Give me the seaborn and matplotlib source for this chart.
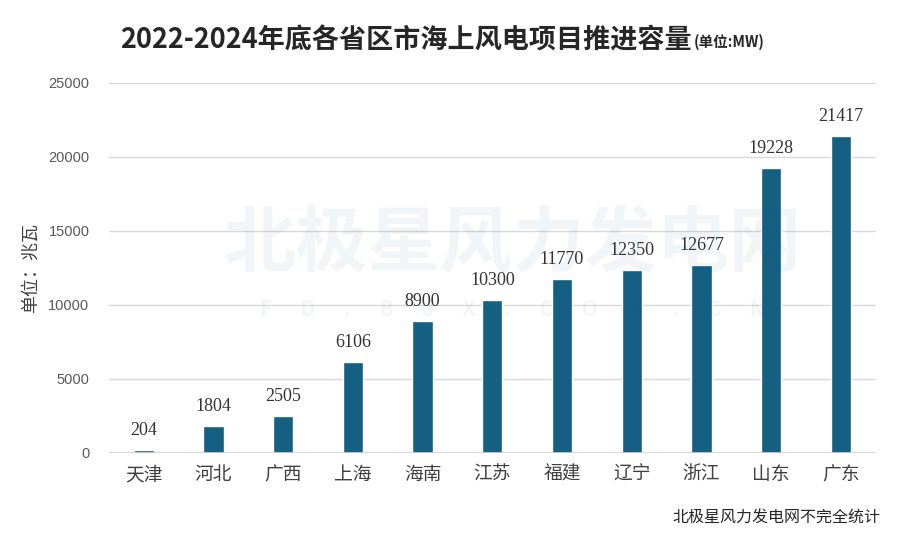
import pandas as pd
import seaborn as sns
import matplotlib.pyplot as plt

provinces = ["天津", "河北", "广西", "上海", "海南", "江苏", "福建", "辽宁", "浙江", "山东", "广东"]
capacity = [204, 1804, 2505, 6106, 8900, 10300, 11770, 12350, 12677, 19228, 21417]
y_ticks = [0, 5000, 10000, 15000, 20000, 25000]

df = pd.DataFrame({"province": provinces, "capacity": capacity})

sns.set_theme(style="white")
plt.rcParams["font.family"] = ["Noto Sans CJK SC", "DejaVu Sans"]

fig = plt.figure(figsize=(9, 5.34), dpi=100)
ax = fig.add_axes([0.121, 0.152, 0.852, 0.693])

# faint watermark behind the chart
fig.text(0.57, 0.541, "北极星风力发电网", ha="center", va="center", fontsize=52,
         fontweight="bold", color="#1d5d8c", alpha=0.06, zorder=0)
fig.text(0.57, 0.42, "F      D      .      B      J      X      .      C      O      M      .      C      N",
         ha="center", va="center", fontsize=15, fontweight="bold", color="#1d5d8c",
         alpha=0.06, zorder=0)
ax.patch.set_alpha(0)

sns.barplot(data=df, x="province", y="capacity", color="#155f82", width=0.29,
            saturation=1, ax=ax, zorder=3)

for i, v in enumerate(capacity):
    ax.text(i, v + 750, str(v), ha="center", va="bottom", fontsize=13,
            family=["Liberation Serif", "DejaVu Serif"], color="#333333")

ax.set_ylim(0, 25000)
ax.set_xlim(-0.5, len(provinces) - 0.5)
ax.set_yticks(y_ticks)
ax.set_yticklabels([str(t) for t in y_ticks], family=["Liberation Sans", "DejaVu Sans"],
                   fontsize=10.5, color="#595959")
ax.tick_params(axis="x", labelsize=13.5, colors="#404040", length=0, pad=8)
ax.tick_params(axis="y", length=0, pad=14)
ax.yaxis.grid(True, color="#d9d9d9", linewidth=1, zorder=0)
for s in ax.spines.values():
    s.set_visible(False)
ax.axhline(0, color="#d0d0d0", linewidth=1.2, zorder=4)

ax.set_xlabel("")
ax.set_ylabel("单位：兆瓦", fontsize=13, color="#404040", labelpad=6)

title = fig.text(0.133, 0.925, "2022-2024年底各省区市海上风电项目推进容量", ha="left",
                 va="center", fontsize=19.5, fontweight="bold", color="#262626")
fig.canvas.draw()
bb = title.get_window_extent().transformed(fig.transFigure.inverted())
fig.text(bb.x1 + 0.003, 0.922, "(单位:MW)", ha="left", va="center",
         fontsize=10.5, fontweight="bold", color="#262626")

fig.text(0.978, 0.03, "北极星风力发电网不完全统计", ha="right", va="center",
         fontsize=11.5, color="#262626")

plt.savefig("out.png", dpi=100)
